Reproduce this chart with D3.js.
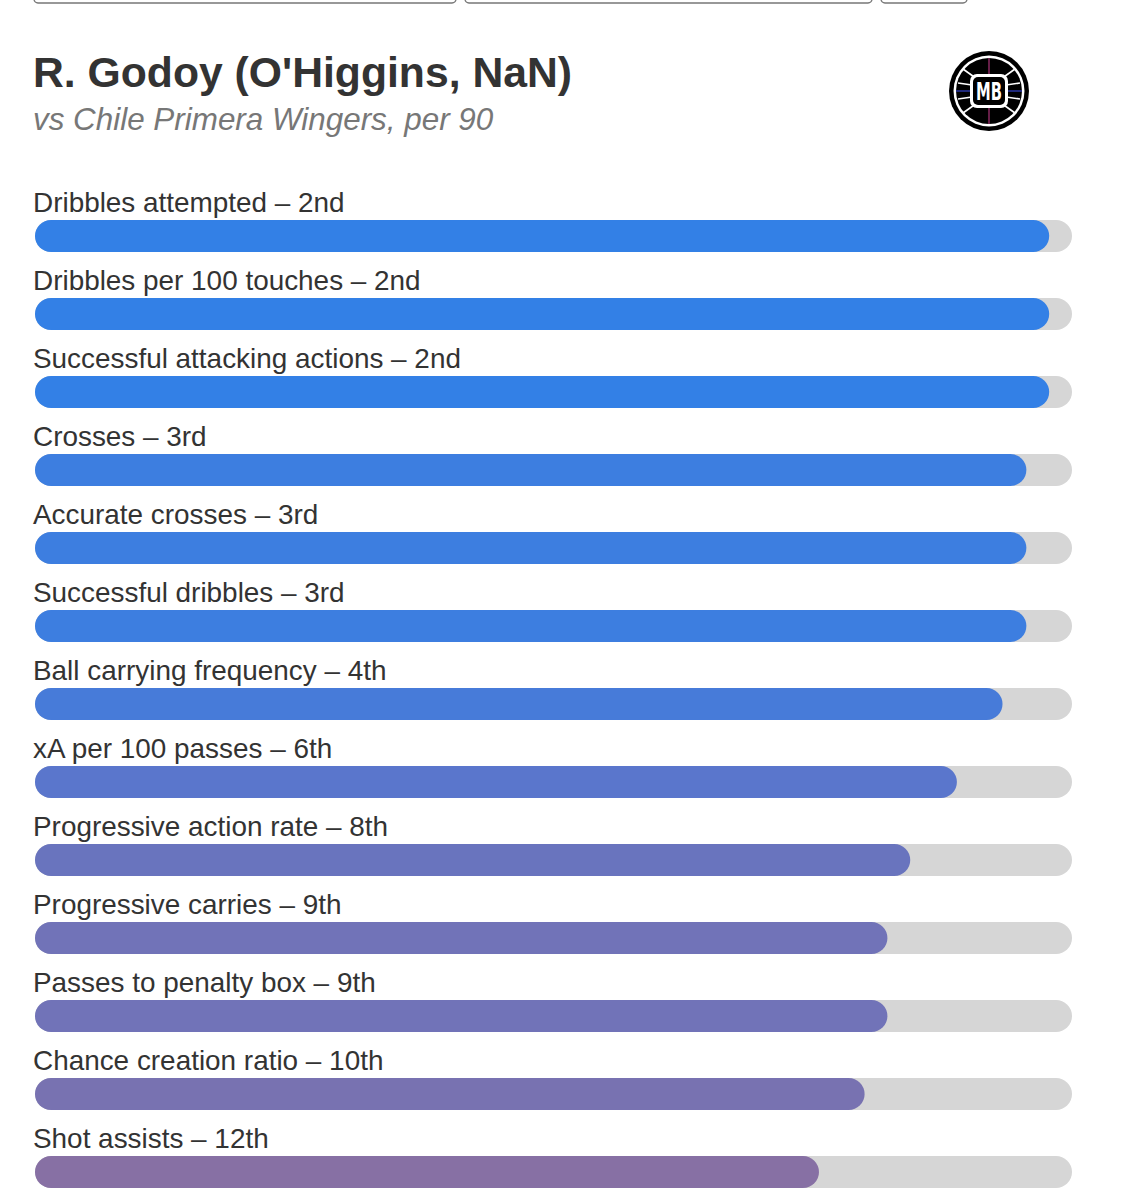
<!DOCTYPE html>
<html>
<head>
<meta charset="utf-8">
<script src="https://cdn.jsdelivr.net/npm/d3@7"></script>
<style>
  html, body { margin: 0; padding: 0; background: #fff; }
  svg { display: block; }
</style>
</head>
<body>
<svg id="chart" width="1147" height="1200"></svg>
<script>
const title = "R. Godoy (O'Higgins, NaN)";
const subtitle = "vs Chile Primera Wingers, per 90";
const metrics = [
  "Dribbles attempted",
  "Dribbles per 100 touches",
  "Successful attacking actions",
  "Crosses",
  "Accurate crosses",
  "Successful dribbles",
  "Ball carrying frequency",
  "xA per 100 passes",
  "Progressive action rate",
  "Progressive carries",
  "Passes to penalty box",
  "Chance creation ratio",
  "Shot assists"
];
const ranks = ["2nd", "2nd", "2nd", "3rd", "3rd", "3rd", "4th", "6th", "8th", "9th", "9th", "10th", "12th"];
const percentiles = [97.8, 97.8, 97.8, 95.6, 95.6, 95.6, 93.3, 88.9, 84.4, 82.2, 82.2, 80.0, 75.6];

const svg = d3.select("#chart");
const font = "'Liberation Sans', Arial, Helvetica, sans-serif";

// top tab boxes (cut off)
const tabs = [[34, 456], [465, 872], [881, 967]];
tabs.forEach(([x0, x1]) => {
  svg.append("rect").attr("x", x0).attr("y", -20).attr("width", x1 - x0).attr("height", 23)
    .attr("rx", 4).attr("fill", "#fff").attr("stroke", "#777").attr("stroke-width", 1.3);
});

svg.append("text").attr("x", 33).attr("y", 87).text(title)
  .attr("font-family", font).attr("font-weight", "bold").attr("font-size", 42.7).attr("fill", "#333");
svg.append("text").attr("x", 33).attr("y", 130).text(subtitle)
  .attr("font-family", font).attr("font-style", "italic").attr("font-size", 31.4).attr("fill", "#777");

// logo
const logo = svg.append("g").attr("transform", "translate(989,91)");
logo.append("circle").attr("r", 40).attr("fill", "#000");
logo.append("circle").attr("r", 35.5).attr("fill", "#fff");
logo.append("circle").attr("r", 33).attr("fill", "#000");
[[-33,0,-17,0],[17,0,33,0]].forEach(l => logo.append("line").attr("x1", l[0]).attr("y1", l[1]).attr("x2", l[2]).attr("y2", l[3]).attr("stroke", "#3344cc").attr("stroke-width", 1.2));
[[0,-33,0,-15],[0,15,0,33]].forEach(l => logo.append("line").attr("x1", l[0]).attr("y1", l[1]).attr("x2", l[2]).attr("y2", l[3]).attr("stroke", "#aa3377").attr("stroke-width", 1.2));
[[-12,-12,-26,-22],[12,-12,26,-22],[-12,12,-26,22],[12,12,26,22],[-17,-6,-31,-8],[17,-6,31,-8],[-17,6,-31,8],[17,6,31,8]].forEach(l =>
  logo.append("line").attr("x1", l[0]).attr("y1", l[1]).attr("x2", l[2]).attr("y2", l[3]).attr("stroke", "#fff").attr("stroke-width", 1.6));
logo.append("rect").attr("x", -19).attr("y", -17).attr("width", 38).attr("height", 34).attr("rx", 7).attr("fill", "#fff");
logo.append("rect").attr("x", -16).attr("y", -14).attr("width", 32).attr("height", 28).attr("rx", 5).attr("fill", "#000");
logo.append("text").attr("x", 0).attr("y", 9).attr("text-anchor", "middle").text("MB")
  .attr("font-family", "'DejaVu Sans Condensed', 'Liberation Sans Narrow', sans-serif").attr("font-weight", "bold")
  .attr("font-size", 24).attr("textLength", 26).attr("lengthAdjust", "spacingAndGlyphs").attr("fill", "#fff");

// scales
const x = d3.scaleLinear().domain([0, 100]).range([35, 1072]);
const y = d3.scaleBand().domain(metrics).range([181, 1195]).paddingInner(0).paddingOuter(0);
const color = d3.scaleLinear().domain([75.6, 88.9, 97.8]).range(["#8770a4", "#5a76cc", "#3380e6"]);
const barH = 32;

const rows = svg.selectAll("g.row").data(metrics.map((m, i) => ({ m, r: ranks[i], p: percentiles[i] })))
  .enter().append("g").attr("class", "row").attr("transform", d => `translate(0,${y(d.m)})`);

rows.append("text").attr("x", x(0) - 2).attr("y", 31).text(d => `${d.m} – ${d.r}`)
  .attr("font-family", font).attr("font-size", 27.9).attr("fill", "#333");

rows.append("rect").attr("x", x(0)).attr("y", 39).attr("width", x(100) - x(0)).attr("height", barH)
  .attr("rx", barH / 2).attr("fill", "#d6d6d6");
rows.append("rect").attr("x", x(0)).attr("y", 39).attr("width", d => x(d.p) - x(0)).attr("height", barH)
  .attr("rx", barH / 2).attr("fill", d => color(d.p));
</script>
</body>
</html>
